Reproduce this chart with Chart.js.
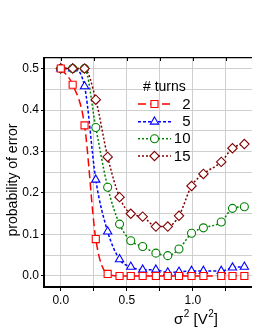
<!DOCTYPE html>
<html>
<head>
<meta charset="utf-8">
<script src="https://cdn.jsdelivr.net/npm/chart.js@4/dist/chart.umd.min.js"></script>
<style>
html,body{margin:0;padding:0;background:#fff;overflow:hidden;width:255px;height:330px;}
#wrap{position:absolute;left:0;top:0;width:258px;height:330px;}
</style>
</head>
<body>
<div id="wrap"><canvas id="c" width="258" height="330"></canvas></div>
<script>
// ---- data ----
const sigma2 = [0, 0.09, 0.18, 0.265, 0.355, 0.445, 0.53, 0.62, 0.72, 0.81, 0.895, 0.99, 1.08, 1.215, 1.30, 1.39];
const turns2  = [0.5, 0.461, 0.363, 0.089, 0.005, 0.0, 0.0, 0.0, 0.0, 0.0, 0.0, 0.0, 0.0, 0.0, 0.0, 0.0];
const turns5  = [0.5, 0.5, 0.457, 0.232, 0.107, 0.040, 0.022, 0.015, 0.015, 0.008, 0.010, 0.012, 0.012, 0.012, 0.020, 0.022];
const turns10 = [0.5, 0.5, 0.5, 0.358, 0.214, 0.125, 0.085, 0.071, 0.055, 0.049, 0.065, 0.103, 0.116, 0.130, 0.163, 0.167];
const turns15 = [0.5, 0.5, 0.5, 0.425, 0.287, 0.190, 0.150, 0.143, 0.119, 0.119, 0.145, 0.217, 0.246, 0.275, 0.308, 0.318];
const seriesLabels = ['2', '5', '10', '15'];
const legendTitle = '# turns';
const yTitle = 'probability of error';

const FONT = "'Liberation Sans', Arial, sans-serif";
const styles = [
  {color:'#ff0000', dash:[8,4], point:'rect', r:5, order:0},
  {color:'#0000ff', dash:[3,2], point:'triangle', r:4.8, order:3},
  {color:'#008000', dash:[2,2], point:'circle', r:4, order:2},
  {color:'#800000', dash:[2,2], point:'rectRot', r:4.7, order:1}
];
const values = [turns2, turns5, turns10, turns15];
const datasets = values.map((arr, i) => ({
  label: seriesLabels[i],
  data: arr.map((v, k) => ({x: sigma2[k], y: v})),
  borderColor: styles[i].color,
  borderWidth: 1.5,
  borderDash: styles[i].dash,
  pointStyle: styles[i].point,
  pointRadius: styles[i].r,
  pointBorderWidth: 1.1,
  pointBorderColor: styles[i].color,
  pointBackgroundColor: '#ffffff',
  cubicInterpolationMode: 'monotone',
  order: styles[i].order,
  clip: false
}));

function drawMarker(ctx, style, x, y, r) {
  ctx.beginPath();
  if (style === 'rect') {
    const s = r * Math.SQRT1_2;
    ctx.rect(x - s, y - s, 2 * s, 2 * s);
  } else if (style === 'rectRot') {
    ctx.moveTo(x, y - r); ctx.lineTo(x + r, y); ctx.lineTo(x, y + r); ctx.lineTo(x - r, y); ctx.closePath();
  } else if (style === 'triangle') {
    ctx.moveTo(x, y - r); ctx.lineTo(x + r * 0.866, y + r * 0.5); ctx.lineTo(x - r * 0.866, y + r * 0.5); ctx.closePath();
  } else {
    ctx.arc(x, y, r, 0, Math.PI * 2);
  }
  ctx.fill(); ctx.stroke();
}

const decor = {
  id: 'decor',
  afterDraw(chart) {
    const ctx = chart.ctx;
    const xs = chart.scales.x;
    const top = chart.chartArea.top;
    ctx.save();
    // inward ticks on top axis
    ctx.strokeStyle = '#000'; ctx.lineWidth = 1; ctx.setLineDash([]);
    for (let v = 0; v <= 1.25 + 1e-9; v += 0.25) {
      const px = Math.round(xs.getPixelForValue(v)) + 0.5;
      ctx.beginPath(); ctx.moveTo(px, top); ctx.lineTo(px, top + 3); ctx.stroke();
    }
    // y title
    ctx.fillStyle = '#000';
    ctx.font = '14px ' + FONT;
    ctx.save();
    ctx.translate(13, 180);
    ctx.rotate(-Math.PI / 2);
    ctx.textAlign = 'center'; ctx.textBaseline = 'middle';
    ctx.fillText(yTitle, 0, 0);
    ctx.restore();
    // x title: sigma^2 [V^2]
    ctx.textAlign = 'left'; ctx.textBaseline = 'alphabetic';
    let x = 174, base = 324;
    ctx.font = '15px ' + FONT;
    ctx.fillText('\u03C3', x, base); x += ctx.measureText('\u03C3').width + 0.5;
    ctx.font = '10px ' + FONT;
    ctx.fillText('2', x, base - 7); x += ctx.measureText('2').width;
    ctx.font = '15px ' + FONT;
    ctx.fillText(' [V', x, base); x += ctx.measureText(' [V').width + 0.5;
    ctx.font = '10px ' + FONT;
    ctx.fillText('2', x, base - 7); x += ctx.measureText('2').width;
    ctx.font = '15px ' + FONT;
    ctx.fillText(']', x, base);
    // legend
    ctx.font = '14px ' + FONT;
    ctx.textBaseline = 'middle'; ctx.textAlign = 'left';
    ctx.fillText(legendTitle, 143, 87);
    const rows = [104, 121.7, 138.7, 156];
    ctx.font = '15px ' + FONT;
    chart.data.datasets.forEach((ds, i) => {
      const y = rows[i];
      ctx.strokeStyle = ds.borderColor; ctx.lineWidth = 1.5;
      ctx.setLineDash(ds.borderDash);
      ctx.beginPath(); ctx.moveTo(138, y); ctx.lineTo(171, y); ctx.stroke();
      ctx.setLineDash([]);
      ctx.lineWidth = 1.1; ctx.fillStyle = '#fff';
      drawMarker(ctx, ds.pointStyle, 154.5, y, ds.pointRadius);
      ctx.fillStyle = '#000'; ctx.textAlign = 'right';
      ctx.fillText(ds.label, 190.5, y + 0.5);
    });
    ctx.restore();
  }
};

const isMult = (v, step) => Math.abs(v / step - Math.round(v / step)) < 1e-6;

new Chart(document.getElementById('c'), {
  type: 'line',
  data: {datasets},
  options: {
    responsive: false,
    animation: false,
    devicePixelRatio: 1,
    layout: {padding: 0},
    plugins: {legend: {display: false}, tooltip: {enabled: false}},
    scales: {
      x: {
        type: 'linear', position: 'bottom',
        min: -0.127, max: 1.447,
        afterFit(s) { s.height = 43; },
        grid: {color: '#cfcfcf', lineWidth: 1, tickLength: 4, tickColor: '#000', drawOnChartArea: true},
        border: {display: true, color: '#000', width: 2},
        ticks: {stepSize: 0.25, includeBounds: false, autoSkip: false, maxRotation: 0, padding: 2,
          color: '#000', font: {family: FONT, size: 12},
          callback: (v) => isMult(v, 0.5) ? v.toFixed(1) : ''}
      },
      x2: {
        type: 'linear', position: 'top',
        min: -0.127, max: 1.447,
        afterFit(s) { s.height = 58; },
        grid: {drawOnChartArea: false, drawTicks: false},
        border: {display: true, color: '#000', width: 1.2},
        ticks: {display: false}
      },
      y: {
        type: 'linear', position: 'left',
        min: -0.0266, max: 0.5254,
        afterFit(s) { s.width = 44; },
        grid: {color: '#cfcfcf', lineWidth: 1, tickLength: 3,
          tickColor: (c) => (c.tick && isMult(c.tick.value, 0.1)) ? '#000' : 'rgba(0,0,0,0)'},
        border: {display: true, color: '#000', width: 2},
        ticks: {stepSize: 0.05, includeBounds: false, autoSkip: false, padding: 2,
          color: '#000', font: {family: FONT, size: 12},
          callback: (v) => isMult(v, 0.1) ? v.toFixed(1) : ''}
      }
    }
  },
  plugins: [decor]
});
</script>
</body>
</html>
